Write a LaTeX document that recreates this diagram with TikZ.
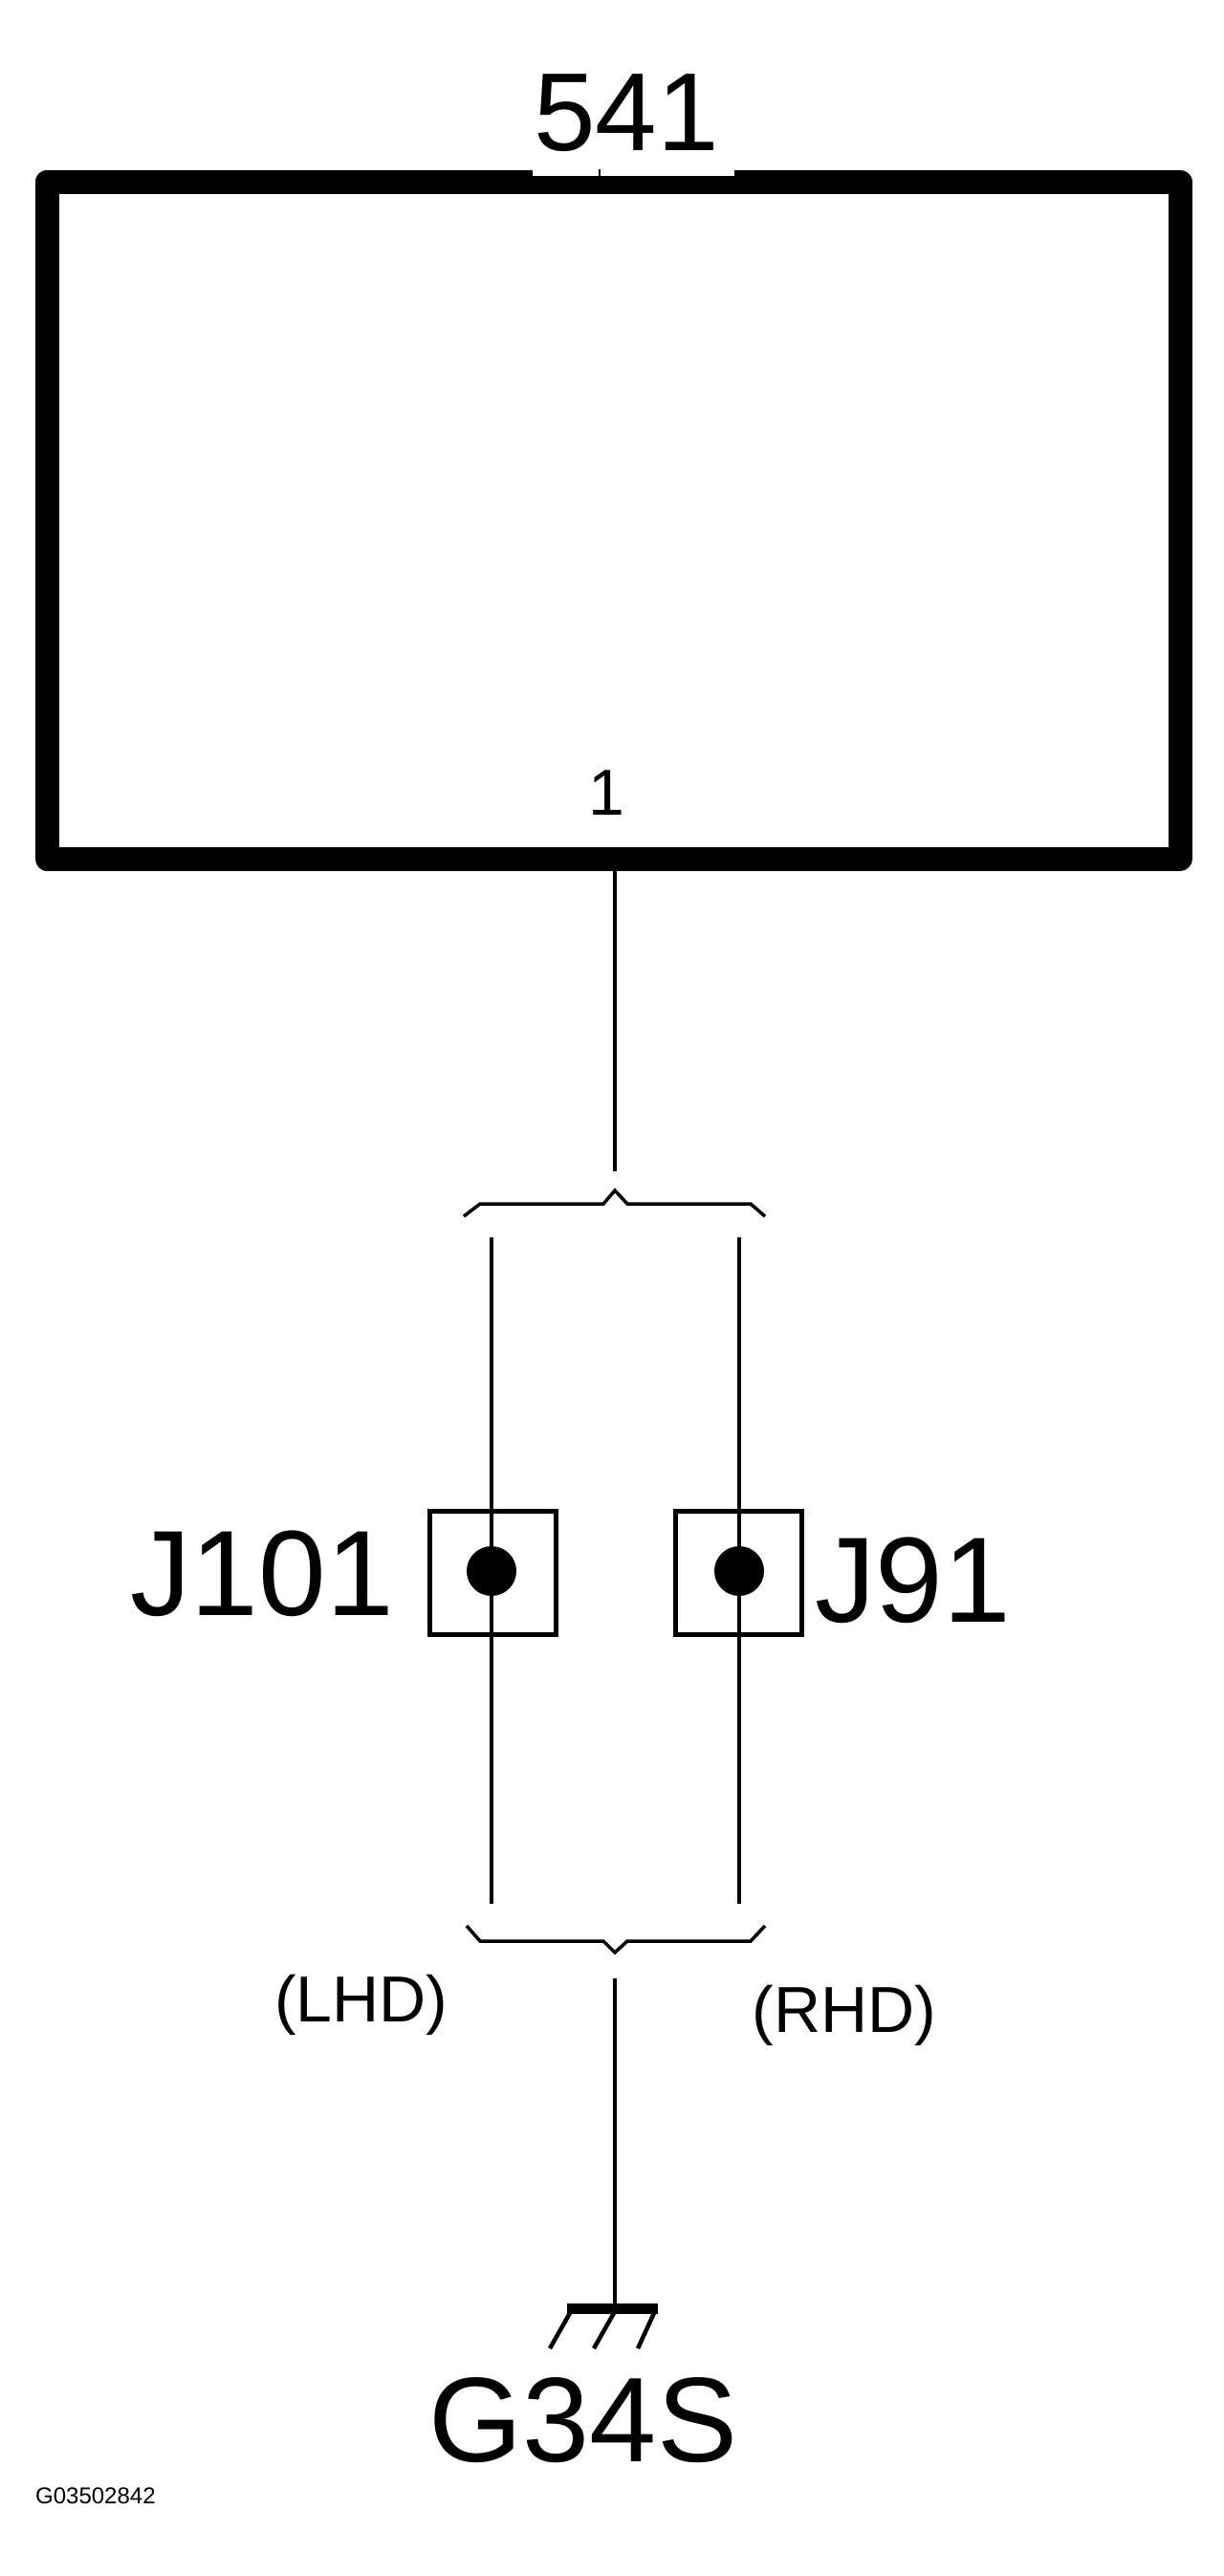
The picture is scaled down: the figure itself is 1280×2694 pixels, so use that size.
\documentclass[tikz,border=0pt]{standalone}
\usepackage{fontspec}
\setmainfont{Liberation Sans}
\begin{document}
\begin{tikzpicture}[x=1pt,y=-1pt,
  wire/.style={line width=3.5pt},
  thick box/.style={line width=25pt,line join=round},
  conn/.style={draw,line width=5pt,minimum width=132pt,minimum height=129pt,inner sep=0pt},
  lbl/.style={inner sep=0pt,anchor=base}]
\useasboundingbox (0,0) rectangle (1280,2694);
% component 541
\draw[thick box] (49,190) rectangle (1234,898);
\fill[white] (557,177) rectangle (768,184);
\draw[line width=2pt] (627,177) -- (627,185);
\node[lbl,font=\fontsize{116}{116}\selectfont] (c541) at (655,157) {541};
\node[lbl,font=\fontsize{68}{68}\selectfont] (p1) at (634,852) {1};
\coordinate (pin1) at (643,905);
\coordinate (w1) at (643,1225);
\draw[wire] (pin1) -- (w1);
% top brace
\coordinate (tb) at (643,1245);
\draw[wire] (485,1272) -- (502,1259) -- (631,1259) -- (tb) -- (656,1259) -- (785,1259) -- (800,1272);
% connectors
\node[conn] (J101) at (515,1645) {};
\node[conn] (J91) at (772,1645) {};
\fill (514,1643) circle (26);
\fill (773,1643) circle (26);
\coordinate (lt) at (514,1294); \coordinate (lb) at (514,1991);
\coordinate (rt) at (773,1294); \coordinate (rb) at (773,1991);
\draw[wire] (lt) -- (lb);
\draw[wire] (rt) -- (rb);
\node[lbl,anchor=base east,font=\fontsize{127}{127}\selectfont] (tJ101) at (412,1689) {J101};
\node[lbl,anchor=base west,font=\fontsize{127}{127}\selectfont] (tJ91) at (852,1696) {J91};
% bottom brace
\coordinate (bb) at (643,2042);
\draw[wire] (488,2014) -- (502,2030) -- (631,2030) -- (bb) -- (656,2030) -- (785,2030) -- (800,2014);
\node[lbl,font=\fontsize{68}{68}\selectfont] (lhd) at (378,2114) {(LHD)};
\node[lbl,font=\fontsize{68}{68}\selectfont] (rhd) at (883,2125) {(RHD)};
% ground
\coordinate (gw) at (643,2069);
\coordinate (gt) at (643,2410);
\draw[wire] (gw) -- (gt);
\fill (593,2409) rectangle (688,2420);
\draw[line width=4.5pt] (575,2456) -- (596,2419) (621,2456) -- (642,2419) (667,2456) -- (684,2419);
\node[lbl,font=\fontsize{126}{126}\selectfont] (g34s) at (610,2574) {G34S};
\node[lbl,anchor=base west,font=\fontsize{24}{24}\selectfont] (code) at (37,2618) {G03502842};
\end{tikzpicture}
\end{document}
